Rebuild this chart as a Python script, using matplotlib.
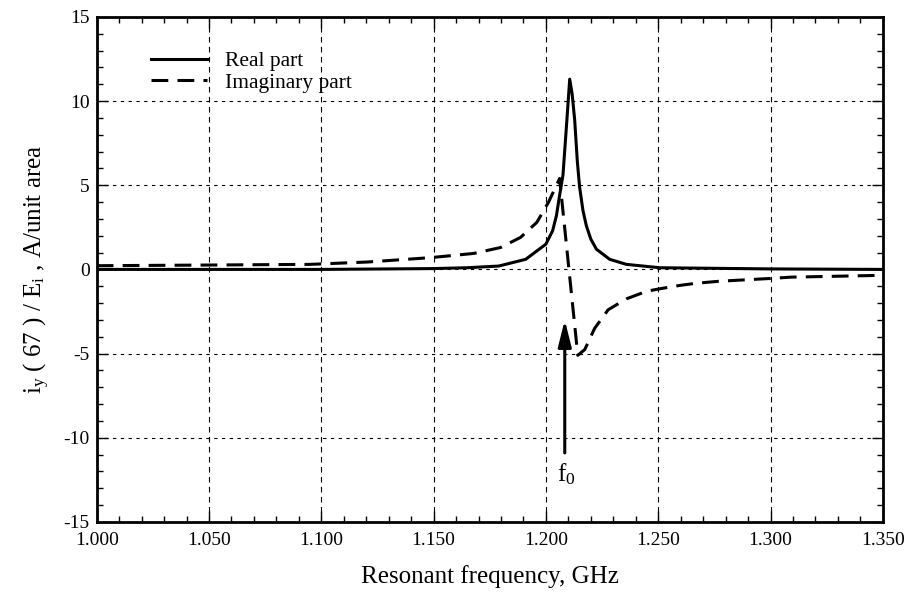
import matplotlib
matplotlib.use("Agg")
import matplotlib.pyplot as plt
from matplotlib.ticker import MultipleLocator, FormatStrFormatter

plt.rcParams['font.family'] = ['Liberation Serif', 'DejaVu Serif']
plt.rcParams['mathtext.fontset'] = 'custom'
plt.rcParams['mathtext.rm'] = 'Liberation Serif'
plt.rcParams['mathtext.it'] = 'Liberation Serif'
plt.rcParams['axes.unicode_minus'] = False

# Real part
real_f = [1.000, 1.050, 1.100, 1.150, 1.165, 1.179, 1.191, 1.200, 1.203, 1.2047,
          1.2061, 1.2076, 1.2092, 1.2106, 1.2117, 1.2128, 1.2140, 1.2150, 1.2165,
          1.2180, 1.2200, 1.2225, 1.2284, 1.2358, 1.2507, 1.300, 1.350]
real_v = [0.0, 0.0, 0.0, 0.05, 0.1, 0.2, 0.6, 1.5, 2.3, 3.2,
          4.4, 5.6, 8.6, 11.3, 10.4, 8.9, 6.4, 4.9, 3.5,
          2.6, 1.8, 1.2, 0.6, 0.3, 0.1, 0.03, 0.0]

# Imaginary part
imag_f = [1.000, 1.050, 1.095, 1.1206, 1.1487, 1.1679, 1.1798, 1.1887, 1.196, 1.2012,
          1.2061, 1.2142, 1.2173, 1.2217, 1.2277, 1.2358, 1.2448, 1.2507, 1.2596,
          1.267, 1.2774, 1.2996, 1.309, 1.350]
imag_v = [0.22, 0.26, 0.3, 0.44, 0.7, 0.95, 1.3, 1.9, 2.8, 4.0,
          5.4, -5.1, -4.76, -3.5, -2.4, -1.75, -1.3, -1.15, -0.95,
          -0.82, -0.7, -0.54, -0.46, -0.35]

x_ticks = [1.000, 1.050, 1.100, 1.150, 1.200, 1.250, 1.300, 1.350]
y_ticks = [-15, -10, -5, 0, 5, 10, 15]

f0_x = 1.2084

fig = plt.figure(figsize=(9.12, 5.95), dpi=100)
ax = fig.add_axes([0.106, 0.1227, 0.862, 0.849])

ax.plot(real_f, real_v, color='black', lw=2.2, solid_joinstyle='round', label='Real part')
ax.plot(imag_f, imag_v, color='black', lw=2.2, dashes=(5.5, 3), label='Imaginary part')

ax.set_xlim(1.0, 1.35)
ax.set_ylim(-15, 15)
ax.set_xticks(x_ticks)
ax.set_yticks(y_ticks)
ax.xaxis.set_major_formatter(FormatStrFormatter('%.3f'))
ax.xaxis.set_minor_locator(MultipleLocator(0.01))
ax.yaxis.set_minor_locator(MultipleLocator(1))
ax.tick_params(which='both', direction='in', top=True, right=True,
               labelsize=14, width=1)
ax.tick_params(which='major', length=8)
ax.tick_params(which='minor', length=4)
ax.tick_params(axis='x', pad=7)
ax.tick_params(axis='y', pad=5)
ax.grid(True, which='major', axis='x', color='black', linestyle=(0, (5, 4)), lw=0.8)
ax.grid(True, which='major', axis='y', color='black', linestyle=(0, (3, 4)), lw=0.8)
for s in ax.spines.values():
    s.set_linewidth(2)

ax.set_xlabel('Resonant frequency, GHz', fontsize=18, labelpad=12)
ax.set_ylabel(r'i$_{\mathregular{ y}}$ ( 67 ) / E$_{\mathregular{i}}$ , A/unit area',
              fontsize=18, labelpad=8)

leg = ax.legend(loc='upper left', bbox_to_anchor=(0.045, 0.97), frameon=False,
                fontsize=15.5, handlelength=2.6, handletextpad=0.8,
                labelspacing=0.05)

ax.annotate('', xy=(f0_x, -3.0), xytext=(f0_x, -10.9),
            arrowprops=dict(arrowstyle='-|>,head_length=1.6,head_width=0.4',
                            color='black', lw=2.2, shrinkA=0, shrinkB=0))
ax.text(f0_x + 0.0006, -11.4, r'f$_{\mathregular{0}}$', fontsize=18,
        ha='center', va='top')

fig.savefig('out.png', dpi=100)
